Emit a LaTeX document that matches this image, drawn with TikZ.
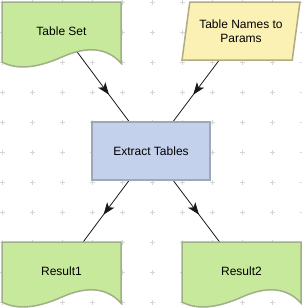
\documentclass[tikz,border=0pt]{standalone}
\usepackage{fontspec}
\setmainfont{Liberation Sans}
\usetikzlibrary{arrows.meta,decorations.markings,shapes.geometric,backgrounds}
\definecolor{docfillc}{RGB}{199,233,155}
\definecolor{docdrawc}{RGB}{160,176,134}
\definecolor{parfillc}{RGB}{251,241,180}
\definecolor{pardrawc}{RGB}{178,170,130}
\definecolor{procfillc}{RGB}{196,209,236}
\definecolor{procdrawc}{RGB}{160,167,184}
\definecolor{gridc}{RGB}{214,214,214}
\tikzset{
  docnode/.style={
    shape = rectangle,
    minimum width = 119pt,
    minimum height = 60pt,
    inner sep = 0pt
  },
  docshape/.style={
    draw = docdrawc,
    fill = docfillc,
    line width = 1.5pt
  },
  datanode/.style={
    shape = trapezium,
    trapezium left angle = 77,
    trapezium right angle = 103,
    trapezium stretches = true,
    minimum width = 118pt,
    minimum height = 58pt,
    align = center,
    draw = pardrawc,
    fill = parfillc,
    line width = 1.5pt
  },
  procnode/.style={
    shape = rectangle,
    minimum width = 118pt,
    minimum height = 58pt,
    draw = procdrawc,
    fill = procfillc,
    line width = 1.5pt
  },
  flow/.style={
    draw = black!90,
    line width = 0.8pt,
    postaction = {decorate},
    decoration = {markings,
      mark = at position 0.53 with {\arrow{Stealth[length=12pt,width=9pt,inset=3pt]}}}
  },
  gridmark/.style={
    draw = gridc,
    line width = 0.6pt
  },
  every picture/.style = {
    font = \fontsize{12}{14}\selectfont
  }
}
% wavy bottom of a document shape, #1,#2 = top left corner
\newcommand{\docpath}[2]{
  \path[docshape, shift={(#1,#2)}] (0,0) -- (119,0) -- (119,61)
    .. controls (105,45.7) and (85.3,43.7) .. (60,55)
    .. controls (34.7,66.3) and (14.7,68) .. (0,60) -- cycle;
}

\begin{document}
\begin{tikzpicture}[x=1pt, y=-1pt]
  \useasboundingbox (0,0) rectangle (301,308);

  \docpath{2}{2}
  \docpath{2}{242}
  \docpath{182}{242}

  \node[docnode] (tset) at (61.5,31) {Table Set};
  \node[datanode] (tnames) at (241,31) {Table Names to\\Params};
  \node[procnode] (extract) at (151,151) {Extract Tables};
  \node[docnode] (res1) at (61.5,271) {Result1};
  \node[docnode] (res2) at (241.5,271) {Result2};

  \begin{scope}[on background layer]
    \fill[white] (0,0) rectangle (301,308);
    \foreach \gx in {0,...,10}{
      \foreach \gy in {0,...,10}{
        \draw[gridmark] ({30*\gx-0.5},{2+30*\gy}) -- ++(5,0)
                        ({2+30*\gx},{30*\gy-0.5}) -- ++(0,5);}}
    \draw[flow] (tset.center) -- (extract.center);
    \draw[flow] (tnames.center) -- (extract.center);
    \draw[flow] (extract.center) -- (res1.center);
    \draw[flow] (extract.center) -- (res2.center);
  \end{scope}
\end{tikzpicture}
\end{document}
